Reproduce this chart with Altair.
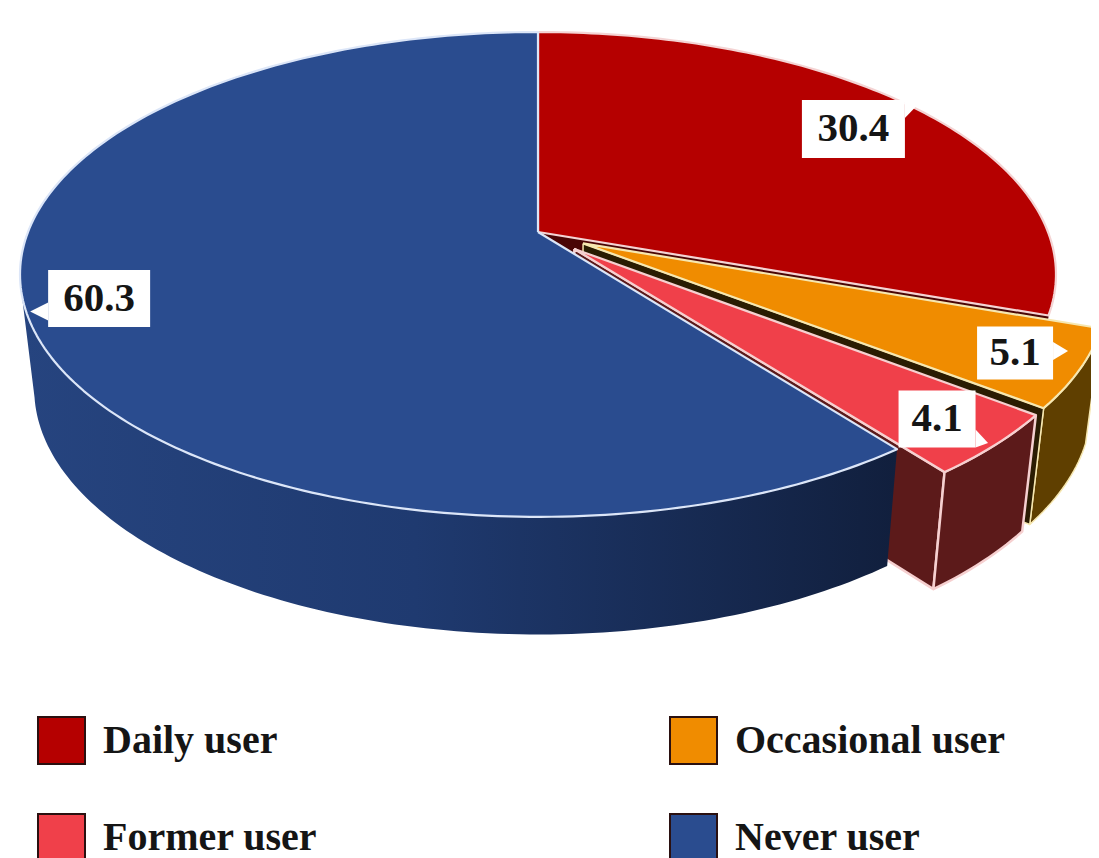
import math
import altair as alt
import pandas as pd

categories = ["Daily user", "Occasional user", "Former user", "Never user"]
values = [30.4, 5.1, 4.1, 60.3]
explode = [0.0, 0.1, 0.1, 0.0]
top_colors = ["#B50000", "#F08C00", "#F0404A", "#2A4C8F"]
wall_colors = ["#4A0505", "#2A1C02", "#5C1A1A", "#16284E"]
side_colors = ["#5C0A0A", "#5F3F00", "#5C1A1A", "#1B2F5C"]
edge_colors = ["#F4D4D4", "#F6E7B0", "#F6D0D0", "#DCE6F8"]
label_box_offset = [(-63, 20), (-65, -16), (-58, -26), (73, -13)]
label_tail_tip = [(1, -4), (-12, -18), (-7, -2), (4, 0)]
legend_order = [0, 2, 1, 3]

# perspective of the pie: top and bottom planes
K = 0.175
CX = 538
TOP = dict(a=510, y0=232, b=235)
BOT = dict(a=496, y0=346, b=238)
BLUE_SILHOUETTE = 258
BOX_W = [103, 76, 77, 102]
BOX_H = [58, 53, 57, 57]

XSCALE = alt.Scale(domain=[8, 1091], zero=False, nice=False)
YSCALE = alt.Scale(domain=[858, 8], zero=False, nice=False)

total = sum(values)
cuts = [0.0]
for v in values:
    cuts.append(cuts[-1] + v / total * 360)


def disc(theta, r, mid, e):
    u = r * math.sin(math.radians(theta)) + e * math.sin(math.radians(mid))
    v = r * math.cos(math.radians(theta)) + e * math.cos(math.radians(mid))
    return u, v


def proj(theta, r, mid, e, plane):
    u, v = disc(theta, r, mid, e)
    w = 1 + K * v
    return CX + plane["a"] * u / w, plane["y0"] - plane["b"] * v / w


def arc(i, a0, a1, plane):
    mid = (cuts[i] + cuts[i + 1]) / 2
    n = max(2, int(abs(a1 - a0) / 1.0))
    return [proj(a0 + (a1 - a0) * j / n, 1, mid, explode[i], plane) for j in range(n + 1)]


def apex(i, plane):
    mid = (cuts[i] + cuts[i + 1]) / 2
    return proj(0, 0, mid, explode[i], plane)


def poly(points, fill, stroke=None, width=0):
    closed = list(points) + [points[0]]
    df = pd.DataFrame({"x": [p[0] for p in closed], "y": [p[1] for p in closed], "i": range(len(closed))})
    kw = dict(fill=fill, strokeWidth=width, strokeJoin="round", interpolate="linear", clip=True)
    kw["stroke"] = stroke if stroke else "transparent"
    return alt.Chart(df).mark_line(**kw).encode(
        x=alt.X("x:Q", scale=XSCALE, axis=None),
        y=alt.Y("y:Q", scale=YSCALE, axis=None),
        order=alt.Order("i:Q"),
    )


def top_face(i):
    return poly([apex(i, TOP)] + arc(i, cuts[i], cuts[i + 1], TOP), top_colors[i], edge_colors[i], 2.2)


def outer_side(i, fill, stroke=None, width=0, end=None):
    e = cuts[i + 1] if end is None else end
    return poly(arc(i, cuts[i], e, TOP) + arc(i, e, cuts[i], BOT), fill, stroke, width)


def end_wall(i, stroke=None, width=0):
    a = cuts[i + 1]
    t = arc(i, a, a, TOP)[0]
    b = arc(i, a, a, BOT)[0]
    return poly([apex(i, TOP), t, b, apex(i, BOT)], wall_colors[i], stroke, width)


blue_gradient = alt.Gradient(
    gradient="linear", x1=0, y1=0, x2=1, y2=0,
    stops=[
        alt.GradientStop(color="#26447F", offset=0),
        alt.GradientStop(color="#1F3A70", offset=0.45),
        alt.GradientStop(color="#111F3D", offset=1),
    ],
)

layers = [
    outer_side(0, side_colors[0]),
    end_wall(0),
    top_face(0),
    outer_side(1, side_colors[1], edge_colors[1], 1.5),
    end_wall(1, edge_colors[1], 1.5),
    top_face(1),
    end_wall(2, edge_colors[2], 2.5),
    outer_side(3, blue_gradient, end=BLUE_SILHOUETTE),
    top_face(3),
    outer_side(2, side_colors[2], edge_colors[2], 2.5),
    top_face(2),
]

# value labels with their call-out boxes, anchored on each slice's rim
labels = []
for i, v in enumerate(values):
    mid = (cuts[i] + cuts[i + 1]) / 2
    ax, ay = proj(mid, 1, mid, explode[i], TOP)
    dx, dy = label_box_offset[i]
    cx, cy = ax + dx, ay + dy
    w, h = BOX_W[i], BOX_H[i]
    l, r, t, b = cx - w / 2, cx + w / 2, cy - h / 2, cy + h / 2
    tx, ty = ax + label_tail_tip[i][0], ay + label_tail_tip[i][1]
    side = l if tx < l else r
    by0 = min(max(ty - 9, t), b - 18)
    layers.append(poly([(side, by0), (tx, ty), (side, by0 + 18)], "white"))
    layers.append(poly([(l, t), (r, t), (r, b), (l, b)], "white"))
    labels.append({"x": cx, "y": cy, "text": f"{v:.1f}"})

text = alt.Chart(pd.DataFrame(labels)).mark_text(
    font="Liberation Serif", fontWeight="bold", fontSize=41, color="#151515", baseline="middle", align="center"
).encode(
    x=alt.X("x:Q", scale=XSCALE, axis=None),
    y=alt.Y("y:Q", scale=YSCALE, axis=None),
    text="text:N",
)
layers.append(text)

legend_layer = alt.Chart(pd.DataFrame({"user": categories, "x": [100] * 4, "y": [100] * 4})).mark_square(size=0, opacity=0).encode(
    x=alt.X("x:Q", scale=XSCALE, axis=None),
    y=alt.Y("y:Q", scale=YSCALE, axis=None),
    color=alt.Color(
        "user:N",
        scale=alt.Scale(domain=[categories[j] for j in legend_order], range=[top_colors[j] for j in legend_order]),
        legend=alt.Legend(
            title=None, orient="none", legendX=29, legendY=708, columns=2, columnPadding=348, rowPadding=42,
            symbolType="square", symbolSize=2209, symbolStrokeColor="#2A1010", symbolStrokeWidth=2,
            symbolOpacity=1, labelFont="Liberation Serif", labelFontWeight="bold", labelFontSize=40,
            labelColor="#151515", labelOffset=17, labelLimit=400,
        ),
    ),
)
layers.append(legend_layer)

chart = alt.layer(*layers).properties(
    width=1083, height=850, padding=0, autosize=alt.AutoSizeParams(type="none")
).configure_view(stroke=None)

chart.save("out.html", embed_options={"renderer": "svg", "actions": False})
